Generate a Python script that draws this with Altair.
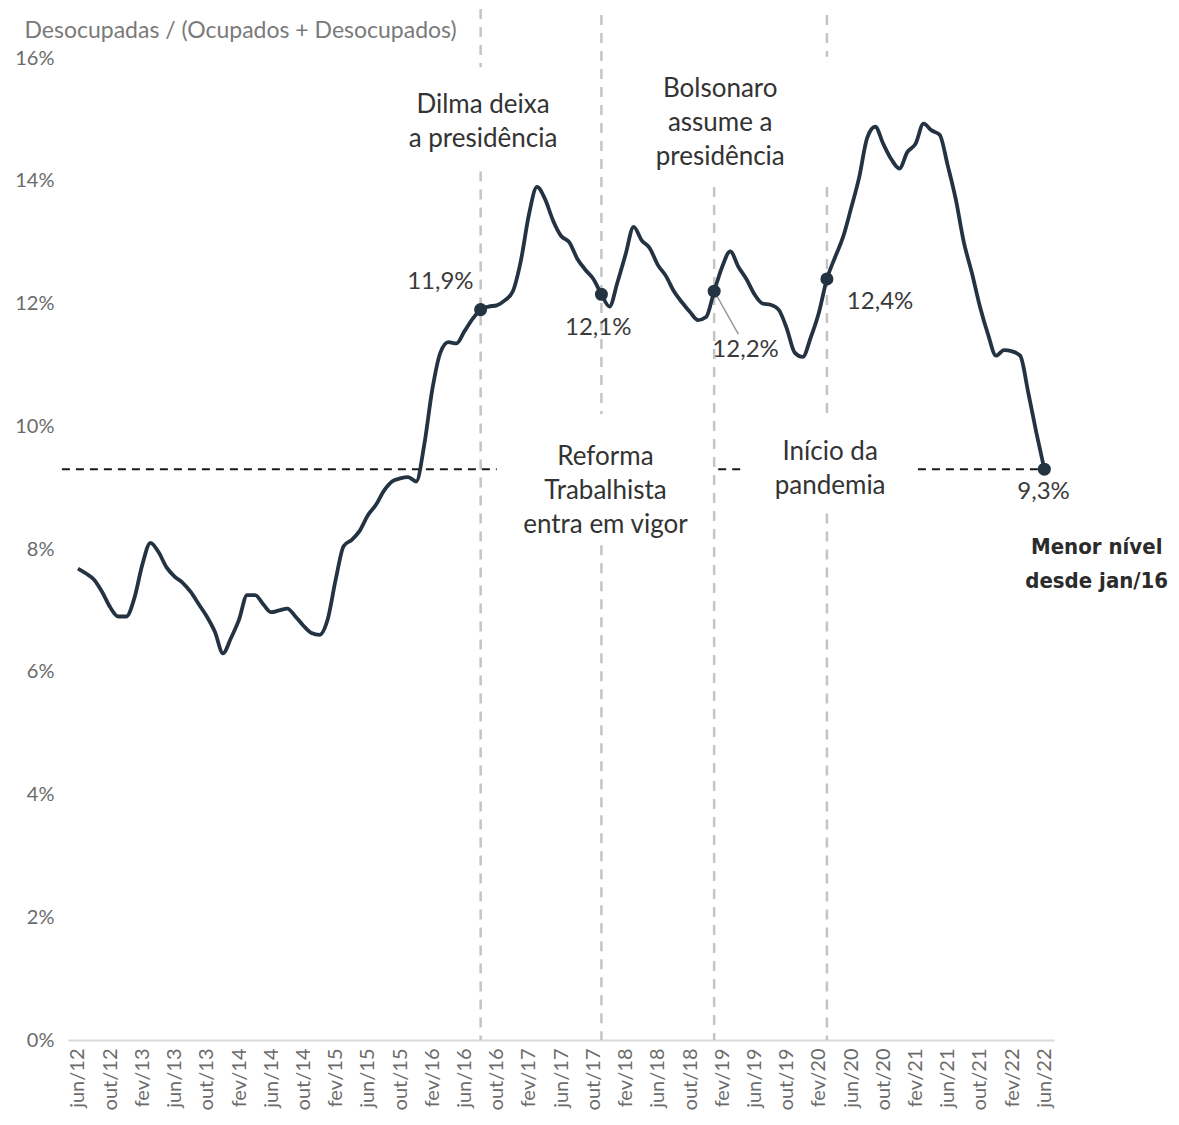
import altair as alt
import pandas as pd

# ---------------- data ----------------
tick_labels = ["jun/12", "out/12", "fev/13", "jun/13", "out/13", "fev/14", "jun/14",
               "out/14", "fev/15", "jun/15", "out/15", "fev/16", "jun/16", "out/16",
               "fev/17", "jun/17", "out/17", "fev/18", "jun/18", "out/18", "fev/19",
               "jun/19", "out/19", "fev/20", "jun/20", "out/20", "fev/21", "jun/21",
               "out/21", "fev/22", "jun/22"]

# monthly unemployment rate (%), jun/12 .. jun/22
rate = [7.68, 7.6, 7.5, 7.3, 7.05, 6.9, 6.9, 7.2, 7.75, 8.1,
        7.95, 7.7, 7.55, 7.45, 7.3, 7.1, 6.9, 6.65, 6.3, 6.55,
        6.85, 7.25, 7.25, 7.1, 6.97, 7.0, 7.03, 6.9, 6.75, 6.63,
        6.6, 6.85, 7.5, 8.05, 8.15, 8.3, 8.55, 8.72, 8.95, 9.1,
        9.15, 9.17, 9.1, 9.7, 10.6, 11.2, 11.37, 11.35, 11.55, 11.75,
        11.9, 11.95, 11.97, 12.05, 12.2, 12.7, 13.45, 13.9, 13.7, 13.35,
        13.1, 13.0, 12.73, 12.55, 12.4, 12.15, 11.95, 12.35, 12.8, 13.25,
        13.03, 12.9, 12.63, 12.45, 12.2, 12.02, 11.86, 11.73, 11.78, 12.2,
        12.6, 12.85, 12.6, 12.4, 12.15, 12.0, 11.98, 11.9, 11.6, 11.2,
        11.13, 11.45, 11.85, 12.4, 12.75, 13.08, 13.55, 14.05, 14.7, 14.88,
        14.6, 14.35, 14.2, 14.47, 14.6, 14.93, 14.82, 14.75, 14.25, 13.7,
        13.0, 12.5, 11.95, 11.5, 11.15, 11.24, 11.22, 11.15, 10.55, 9.9,
        9.3]

# highlighted points (month index) and their labels
hl_month = [50, 65, 79, 93, 120]
hl_label = ["11,9%", "12,1%", "12,2%", "12,4%", "9,3%"]

# event lines (month index)
event_month = [50, 65, 79, 93]
event_text = ["Dilma deixa\na presidência",
              "Reforma\nTrabalhista\nentra em vigor",
              "Bolsonaro\nassume a\npresidência",
              "Início da\npandemia"]

ref_level = 9.3

# ---------------- helpers ----------------
months = list(range(len(rate)))
df = pd.DataFrame({"m": months, "v": rate})

xs = alt.Scale(domain=[-1.24, 121.2], nice=False, zero=False)
ys = alt.Scale(domain=[0, 16], nice=False, zero=True)

label_arr = "[" + ",".join("'%s'" % t for t in tick_labels) + "]"

x_axis = alt.Axis(values=list(range(0, 121, 4)),
                  labelExpr=label_arr + "[round(datum.value/4)]",
                  labelAngle=-90, labelFontSize=20, labelColor="#6b6b6b",
                  labelFont="Lato", labelPadding=8, ticks=False, grid=False,
                  domainColor="#d9d9d9", domainWidth=2, title=None,
                  labelOverlap=False)
y_axis = alt.Axis(values=list(range(0, 17, 2)), labelExpr="datum.value + '%'",
                  labelFontSize=20, labelColor="#6b6b6b", labelFont="Lato",
                  labelPadding=14, ticks=False, grid=False, domain=False,
                  title="Desocupadas / (Ocupados + Desocupados)",
                  titleAngle=0, titleAlign="left", titleBaseline="middle",
                  titleX=-44, titleY=-28, titleFontSize=23, titleColor="#7a7a7a",
                  titleFont="Lato", titleFontWeight="normal")

# vertical dashed segments (gaps around annotation texts)
vseg = pd.DataFrame({
    "m": [event_month[0], event_month[0], event_month[1], event_month[1],
          event_month[2], event_month[3], event_month[3], event_month[3]],
    "y1": [16.8, 14.15, 16.7, 8.06, 13.9, 16.7, 13.9, 8.58],
    "y2": [15.85, 0, 10.2, 0, 0, 16.02, 10.2, 0],
})
vlines = alt.Chart(vseg).mark_rule(color="#c4c4c4", strokeWidth=2.5,
                                   strokeDash=[10, 8]).encode(
    x=alt.X("m:Q", scale=xs, axis=x_axis),
    y=alt.Y("y1:Q", scale=ys, axis=y_axis),
    y2="y2:Q")

hseg = pd.DataFrame({"x1": [-2.0, 79.5, 104.3], "x2": [52.0, 82.9, 119.5],
                     "v": [ref_level] * 3})
hlines = alt.Chart(hseg).mark_rule(color="#1a1a1a", strokeWidth=2,
                                   strokeDash=[8, 6]).encode(
    x=alt.X("x1:Q", scale=xs, axis=x_axis), x2="x2:Q",
    y=alt.Y("v:Q", scale=ys, axis=y_axis))

line = alt.Chart(df).mark_line(interpolate="monotone", color="#243342",
                               strokeWidth=3.8).encode(
    x=alt.X("m:Q", scale=xs, axis=x_axis), y=alt.Y("v:Q", scale=ys, axis=y_axis))

pts_df = pd.DataFrame({"m": hl_month, "v": [rate[i] for i in hl_month],
                       "lab": hl_label})
points = alt.Chart(pts_df).mark_circle(size=170, color="#243342", opacity=1).encode(
    x=alt.X("m:Q", scale=xs, axis=x_axis), y=alt.Y("v:Q", scale=ys, axis=y_axis))

leader = alt.Chart(pd.DataFrame({"m": [79], "m2": [82.0], "v": [rate[79]],
                                 "v2": [11.5]})).mark_rule(
    color="#9a9a9a", strokeWidth=1.5).encode(
    x=alt.X("m:Q", scale=xs, axis=x_axis), x2="m2:Q",
    y=alt.Y("v:Q", scale=ys, axis=y_axis), y2="v2:Q")

lab_df = pd.DataFrame({"lab": hl_label,
                       "m": [45.0, 64.6, 82.9, 99.6, 119.9],
                       "v": [12.35, 11.6, 11.24, 12.02, 8.93]})
val_labels = alt.Chart(lab_df).mark_text(font="Lato", fontSize=24, color="#3a3a3a",
                                         baseline="middle", align="center").encode(
    x=alt.X("m:Q", scale=xs, axis=x_axis), y=alt.Y("v:Q", scale=ys, axis=y_axis),
    text="lab:N")

ann_df = pd.DataFrame({"txt": event_text,
                       "m": [50.3, 65.5, 79.75, 93.4],
                       "v": [15.23, 9.5, 15.5, 9.58]})
ann = alt.Chart(ann_df).mark_text(font="Lato", fontSize=26, color="#333333",
                                  baseline="middle", align="center",
                                  lineBreak="\n", lineHeight=34).encode(
    x=alt.X("m:Q", scale=xs, axis=x_axis), y=alt.Y("v:Q", scale=ys, axis=y_axis),
    text="txt:N")

bold_df = pd.DataFrame({"txt": ["Menor nível\ndesde jan/16"], "m": [126.5],
                        "v": [8.03]})
bold = alt.Chart(bold_df).mark_text(font="DejaVu Sans Condensed, Liberation Sans Narrow",
                                    fontSize=22, fontWeight="bold", color="#2b2b2b",
                                    baseline="middle", align="center",
                                    lineBreak="\n", lineHeight=34).encode(
    x=alt.X("m:Q", scale=xs, axis=x_axis), y=alt.Y("v:Q", scale=ys, axis=y_axis),
    text="txt:N")

chart = alt.layer(vlines, hlines, line, leader, points, val_labels, ann, bold).properties(
    width=986, height=982,
    autosize=alt.AutoSizeParams(type="none"),
    padding={"left": 60, "top": 50, "right": 117, "bottom": 77},
    background="white",
).configure_view(stroke=None).configure_axisX(labelOverlap=False)

chart.save("out.html", embed_options={"renderer": "svg", "actions": False})
